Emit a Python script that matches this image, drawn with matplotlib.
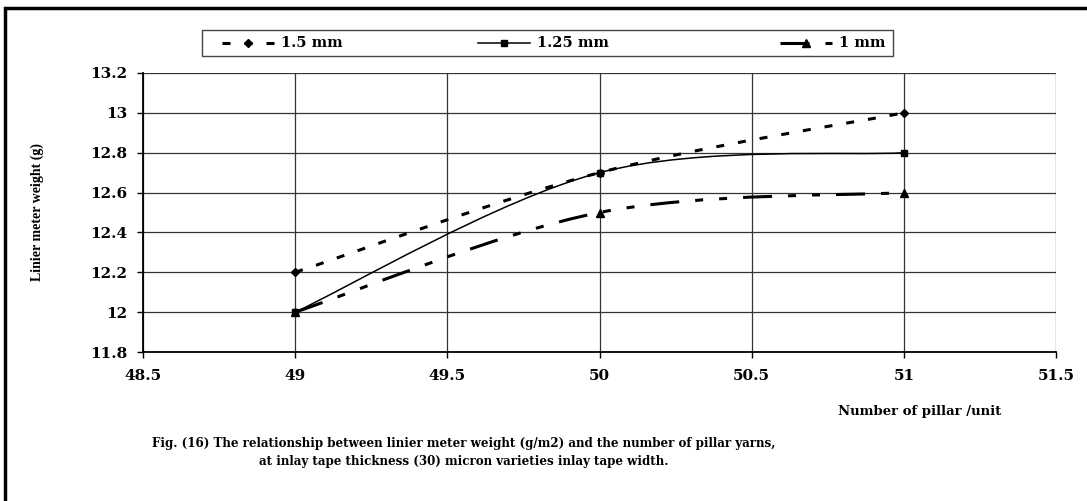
import matplotlib
matplotlib.use("Agg")
import matplotlib.pyplot as plt
from matplotlib.path import Path
from matplotlib.patches import PathPatch, Rectangle
from matplotlib.lines import Line2D

# ---- data ----
pillars = [49, 50, 51]
w_15 = [12.2, 12.7, 13.0]
w_125 = [12.0, 12.7, 12.8]
w_1 = [12.0, 12.5, 12.6]
labels = ["1.5 mm", "1.25 mm", "1 mm"]
xticks = [48.5, 49, 49.5, 50, 50.5, 51, 51.5]
yticks = [11.8, 12, 12.2, 12.4, 12.6, 12.8, 13, 13.2]

plt.rcParams['font.family'] = ['DejaVu Serif']
plt.rcParams['font.weight'] = 'bold'

W, H = 1087, 501
fig = plt.figure(figsize=(W / 100, H / 100), dpi=100)
ax = fig.add_axes([143 / W, 1 - 352 / H, (1056 - 143) / W, (352 - 73) / H])


def smooth_path(xs, ys):
    # Bezier path through the data points (Catmull-Rom style control points)
    px = [xs[0]] + list(xs) + [xs[-1]]
    py = [ys[0]] + list(ys) + [ys[-1]]
    verts = [(xs[0], ys[0])]
    codes = [Path.MOVETO]
    for i in range(1, len(px) - 2):
        c1 = (px[i] + (px[i + 1] - px[i - 1]) / 6, py[i] + (py[i + 1] - py[i - 1]) / 6)
        c2 = (px[i + 1] - (px[i + 2] - px[i]) / 6, py[i + 1] - (py[i + 2] - py[i]) / 6)
        verts += [c1, c2, (px[i + 1], py[i + 1])]
        codes += [Path.CURVE4] * 3
    return Path(verts, codes)


def dash(px_list, lw):
    return (0, [p * 0.72 / lw for p in px_list])


styles = [
    dict(y=w_15, lw=2.2, ls=dash([8, 14], 2.2), marker='D', ms=4.5),
    dict(y=w_125, lw=1.1, ls='-', marker='s', ms=5),
    dict(y=w_1, lw=2.2, ls=dash([29, 16, 8, 16, 8, 16], 2.2), marker='^', ms=6),
]

for st, lab in zip(styles, labels):
    p = PathPatch(smooth_path(pillars, st['y']), facecolor='none', edgecolor='black',
                  lw=st['lw'], linestyle=st['ls'], zorder=3, capstyle='butt')
    ax.add_patch(p)
    ax.plot(pillars, st['y'], linestyle='none', marker=st['marker'], ms=st['ms'],
            color='black', zorder=4, label=lab)

ax.set_xlim(48.5, 51.5)
ax.set_ylim(11.8, 13.2)
ax.set_xticks(xticks)
ax.set_xticklabels([f"{v:g}" for v in xticks])
ax.set_yticks(yticks)
ax.set_yticklabels([f"{v:g}" for v in yticks])
ax.grid(True, color='#333333', lw=0.9)
ax.set_axisbelow(True)
for s in ['top', 'right']:
    ax.spines[s].set_visible(False)
for s in ['left', 'bottom']:
    ax.spines[s].set_linewidth(1.3)
ax.tick_params(axis='both', direction='out', length=4, width=1, labelsize=11)
ax.tick_params(axis='y', pad=7.5)
ax.tick_params(axis='x', pad=8)
for t in ax.get_xticklabels() + ax.get_yticklabels():
    t.set_fontweight('bold')

fig.text(37 / W, 1 - 212 / H, "Linier meter weight (g)", rotation=90, ha='center',
         va='center', fontsize=10, fontweight='bold', family='Liberation Serif')
fig.text(920 / W, 1 - 412 / H, "Number of pillar /unit", ha='center', va='center',
         fontsize=9.5, fontweight='bold')
fig.text(464 / W, 1 - 452 / H,
         "Fig. (16) The relationship between linier meter weight (g/m2) and the number of pillar yarns,\n"
         "at inlay tape thickness (30) micron varieties inlay tape width.",
         ha='center', va='center', fontsize=8.6, fontweight='bold', linespacing=1.5)

# legend box with its three entries
fig.add_artist(Rectangle((202 / W, 1 - 56 / H), (893 - 202) / W, 26 / H,
                         transform=fig.transFigure, fill=False, edgecolor='#444444', lw=1.0))
hx0 = [222, 478, 780]
hlen = 52
for st, lab, x0 in zip(styles, labels, hx0):
    ln = Line2D([x0 / W, (x0 + hlen) / W], [1 - 43 / H, 1 - 43 / H],
                transform=fig.transFigure, color='black', lw=st['lw'], linestyle=st['ls'])
    fig.add_artist(ln)
    mk = Line2D([(x0 + hlen / 2) / W], [1 - 43 / H], transform=fig.transFigure,
                color='black', marker=st['marker'], ms=st['ms'], linestyle='none')
    fig.add_artist(mk)
    fig.text((x0 + hlen + 7) / W, 1 - 43 / H, lab, ha='left', va='center',
             fontsize=10.5, fontweight='bold')

# outer frame (right and bottom edges lie beyond the picture)
fig.add_artist(Rectangle((5 / W, -0.1), 1.2, 1 - 8 / H + 0.1, transform=fig.transFigure,
                         fill=False, edgecolor='black', lw=2.5))

fig.savefig("out.png", dpi=100)
